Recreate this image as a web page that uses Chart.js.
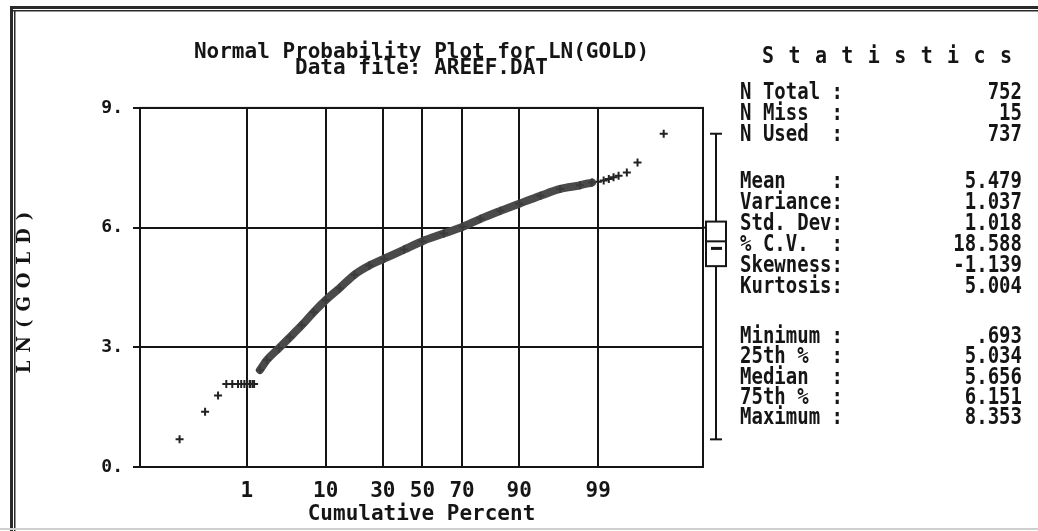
<!DOCTYPE html>
<html>
<head>
<meta charset="utf-8">
<title>Normal Probability Plot for LN(GOLD)</title>
<script src="https://cdn.jsdelivr.net/npm/chart.js@4.4.1/dist/chart.umd.min.js"></script>
<style>
  html, body { margin: 0; padding: 0; background: #fff; }
  canvas { display: block; }
</style>
</head>
<body>
<canvas id="probChart" width="1038" height="531"></canvas>
<script>
// cumulative percent / LN(GOLD) values
const tailPercent = [0.065, 0.20, 0.34, 0.47, 0.59, 0.73, 0.82, 0.92, 1.02, 1.12, 1.22, 1.29];
const tailValue = [0.693, 1.386, 1.792, 2.079, 2.079, 2.079, 2.079, 2.079, 2.079, 2.079, 2.079, 2.079];

const bandPercent = [1.57, 1.97, 2.87, 3.95, 5.49, 7.48, 9.98, 13.6, 18.4, 24.1, 30.6, 40.4, 50.0,
                     61.1, 70.3, 77.9, 84.9, 90.0, 94.1, 96.6, 98.15, 98.76];
const bandValue = [2.43, 2.68, 2.98, 3.25, 3.55, 3.88, 4.18, 4.48, 4.82, 5.05, 5.22, 5.45, 5.66,
                   5.85, 6.02, 6.22, 6.42, 6.60, 6.80, 6.97, 7.06, 7.13];

const upperPercent = [98.99, 99.18, 99.32, 99.43, 99.53, 99.66, 99.78, 99.93];
const upperValue = [7.15, 7.18, 7.22, 7.26, 7.30, 7.38, 7.63, 8.353];

// axis ticks
const tickPercents = [1, 10, 30, 50, 70, 90, 99];
const yTicks = [0, 3, 6, 9];

// statistics panel
const countLabels = ['N Total', 'N Miss', 'N Used'];
const countValues = [752, 15, 737];
const momentLabels = ['Mean', 'Variance', 'Std. Dev', '% C.V.', 'Skewness', 'Kurtosis'];
const momentValues = [5.479, 1.037, 1.018, 18.588, -1.139, 5.004];
const orderLabels = ['Minimum', '25th %', 'Median', '75th %', 'Maximum'];
const orderValues = [0.693, 5.034, 5.656, 6.151, 8.353];

const MONO = '"DejaVu Sans Mono", "Liberation Mono", monospace';
const INK = '#151515';

// inverse normal cdf (Acklam) - turns cumulative percent into normal score
function probit(p) {
    const a = [-39.69683028665376, 220.9460984245205, -275.9285104469687, 138.3577518672690, -30.66479806614716, 2.506628277459239];
    const b = [-54.47609879822406, 161.5858368580409, -155.6989798598866, 66.80131188771972, -13.28068155288572];
    const c = [-7.784894002430293e-03, -0.3223964580411365, -2.400758277161838, -2.549732539343734, 4.374664141464968, 2.938163982698783];
    const d = [7.784695709041462e-03, 0.3224671290700398, 2.445134137142996, 3.754408661907416];
    const pl = 0.02425;
    if (p < pl) {
        const q = Math.sqrt(-2 * Math.log(p));
        return (((((c[0]*q+c[1])*q+c[2])*q+c[3])*q+c[4])*q+c[5]) / ((((d[0]*q+d[1])*q+d[2])*q+d[3])*q+1);
    }
    if (p > 1 - pl) {
        const q = Math.sqrt(-2 * Math.log(1 - p));
        return -(((((c[0]*q+c[1])*q+c[2])*q+c[3])*q+c[4])*q+c[5]) / ((((d[0]*q+d[1])*q+d[2])*q+d[3])*q+1);
    }
    const q = p - 0.5, r = q * q;
    return (((((a[0]*r+a[1])*r+a[2])*r+a[3])*r+a[4])*r+a[5])*q / (((((b[0]*r+b[1])*r+b[2])*r+b[3])*r+b[4])*r+1);
}

const toPoints = (pcts, vals) => pcts.map((p, i) => ({ x: probit(p / 100), y: vals[i] }));

function fmtStat(v) {
    if (Number.isInteger(v)) return String(v);
    const s = v.toFixed(3);
    return Math.abs(v) < 1 ? s.replace(/^(-?)0\./, '$1.') : s;
}

// old DOS look: tall narrow text
function tallText(ctx, txt, x, y, align, font, sy) {
    ctx.save();
    ctx.font = font;
    ctx.textAlign = align;
    ctx.textBaseline = 'middle';
    ctx.translate(x, y);
    ctx.scale(1, sy);
    ctx.fillText(txt, 0, 0);
    ctx.restore();
}

const framePlugin = {
    id: 'frame',
    beforeDraw(chart) {
        const ctx = chart.ctx;
        ctx.save();
        ctx.fillStyle = '#fff';
        ctx.fillRect(0, 0, chart.width, chart.height);
        ctx.fillStyle = '#2a2a2a';
        ctx.fillRect(10, 6, chart.width - 10, 3);
        ctx.fillRect(13, 10, chart.width - 13, 1.5);
        ctx.fillRect(10, 6, 3, chart.height - 6);
        ctx.fillRect(14, 10, 1.5, chart.height - 10);
        ctx.fillStyle = '#cfcfcf';
        ctx.fillRect(0, chart.height - 3, chart.width, 2);
        ctx.restore();
    },
    afterDraw(chart) {
        const ctx = chart.ctx;
        const area = chart.chartArea;
        const y = chart.scales.y;
        ctx.save();
        ctx.strokeStyle = INK;
        ctx.fillStyle = INK;
        ctx.lineWidth = 2;
        ctx.strokeRect(area.left, area.top, area.right - area.left, area.bottom - area.top);

        // box plot beside the plot, on the same value scale
        const [vMin, vQ1, vMed, vQ3, vMax] = orderValues;
        const cx = area.right + 13;
        const line = (x1, y1, x2, y2) => { ctx.beginPath(); ctx.moveTo(x1, y1); ctx.lineTo(x2, y2); ctx.stroke(); };
        line(cx, y.getPixelForValue(vMax), cx, y.getPixelForValue(vQ3));
        line(cx, y.getPixelForValue(vQ1), cx, y.getPixelForValue(vMin));
        line(cx - 6, y.getPixelForValue(vMax), cx + 6, y.getPixelForValue(vMax));
        line(cx - 6, y.getPixelForValue(vMin), cx + 6, y.getPixelForValue(vMin));
        ctx.strokeRect(cx - 10, y.getPixelForValue(vQ3), 20, y.getPixelForValue(vQ1) - y.getPixelForValue(vQ3));
        line(cx - 10, y.getPixelForValue(vMed), cx + 10, y.getPixelForValue(vMed));
        ctx.fillRect(cx - 5, y.getPixelForValue(momentValues[0]) - 1.5, 11, 3);
        line(area.right, y.getPixelForValue(6), cx - 10, y.getPixelForValue(6));

        // y axis title, spaced out like the original
        ctx.save();
        ctx.translate(25, (area.top + area.bottom) / 2 + 5);
        ctx.rotate(-Math.PI / 2);
        ctx.font = 'bold 18px "DejaVu Serif", serif';
        ctx.textAlign = 'center';
        ctx.textBaseline = 'middle';
        ctx.letterSpacing = '8px';
        ctx.fillText('LN(GOLD)', 4, 0);
        ctx.restore();

        // statistics panel
        ctx.save();
        ctx.font = 'bold 20px ' + MONO;
        ctx.textAlign = 'left';
        ctx.textBaseline = 'middle';
        ctx.letterSpacing = '14.4px';
        ctx.translate(762, 57);
        ctx.scale(1, 1.15);
        ctx.fillText('Statistics', 0, 0);
        ctx.restore();

        const statFont = 'bold 19px ' + MONO;
        const groups = [
            { labels: countLabels, values: countValues, top: 93, step: 21 },
            { labels: momentLabels, values: momentValues, top: 182, step: 21 },
            { labels: orderLabels, values: orderValues, top: 337, step: 20.3 }
        ];
        groups.forEach(g => {
            g.labels.forEach((lab, i) => {
                const yy = g.top + i * g.step;
                tallText(ctx, lab.padEnd(8) + ':', 740, yy, 'left', statFont, 1.2);
                tallText(ctx, fmtStat(g.values[i]), 1022, yy, 'right', statFont, 1.2);
            });
        });
        ctx.restore();
    }
};

const ctx = document.getElementById('probChart');
const probChart = new Chart(ctx, {
    type: 'scatter',
    data: {
        datasets: [{
            label: 'LN(GOLD) dense',
            data: toPoints(bandPercent, bandValue),
            showLine: true,
            borderColor: '#4a4a4a',
            borderWidth: 8,
            borderCapStyle: 'round',
            cubicInterpolationMode: 'monotone',
            pointStyle: 'cross',
            pointRadius: 4,
            pointBorderWidth: 2,
            pointBorderColor: '#3a3a3a',
        }, {
            label: 'LN(GOLD) tails',
            data: toPoints(tailPercent, tailValue).concat(toPoints(upperPercent, upperValue)),
            showLine: false,
            pointStyle: 'cross',
            pointRadius: 4,
            pointBorderWidth: 2,
            pointBorderColor: '#222',
        }]
    },
    options: {
        responsive: false,
        animation: false,
        layout: { padding: { left: 0, top: 0, right: 335, bottom: 0 } },
        plugins: {
            legend: { display: false },
            tooltip: { enabled: false },
            title: {
                display: true,
                fullSize: false,
                text: ['Normal Probability Plot for LN(GOLD)', 'Data file: AREEF.DAT'],
                color: INK,
                font: { family: MONO, size: 21, weight: 'bold', lineHeight: 0.76 },
                padding: { top: 45, bottom: 31 }
            }
        },
        scales: {
            x: {
                type: 'linear',
                min: -3.74,
                max: 3.715,
                afterBuildTicks: (scale) => {
                    scale.ticks = tickPercents.map(p => ({ value: probit(p / 100) }));
                },
                afterFit: (scale) => { scale.height = 64; },
                ticks: {
                    callback: (value, index) => String(tickPercents[index]),
                    color: INK,
                    font: { family: MONO, size: 21, weight: 'bold' },
                    padding: 12,
                    maxRotation: 0,
                    autoSkip: false
                },
                grid: { color: INK, lineWidth: 2, drawTicks: false },
                border: { color: INK, width: 2 },
                title: {
                    display: true,
                    text: 'Cumulative Percent',
                    color: INK,
                    font: { family: MONO, size: 21, weight: 'bold', lineHeight: 1 },
                    padding: { top: 0, bottom: 6 }
                }
            },
            y: {
                min: 0,
                max: 9,
                afterBuildTicks: (scale) => {
                    scale.ticks = yTicks.map(v => ({ value: v }));
                },
                afterFit: (scale) => { scale.width = 140; },
                ticks: {
                    callback: (value) => value + '.',
                    color: INK,
                    font: { family: MONO, size: 18, weight: 'bold' },
                    padding: 10
                },
                grid: { color: INK, lineWidth: 2, drawTicks: true, tickLength: 7 },
                border: { color: INK, width: 2 }
            }
        }
    },
    plugins: [framePlugin]
});
</script>
</body>
</html>
